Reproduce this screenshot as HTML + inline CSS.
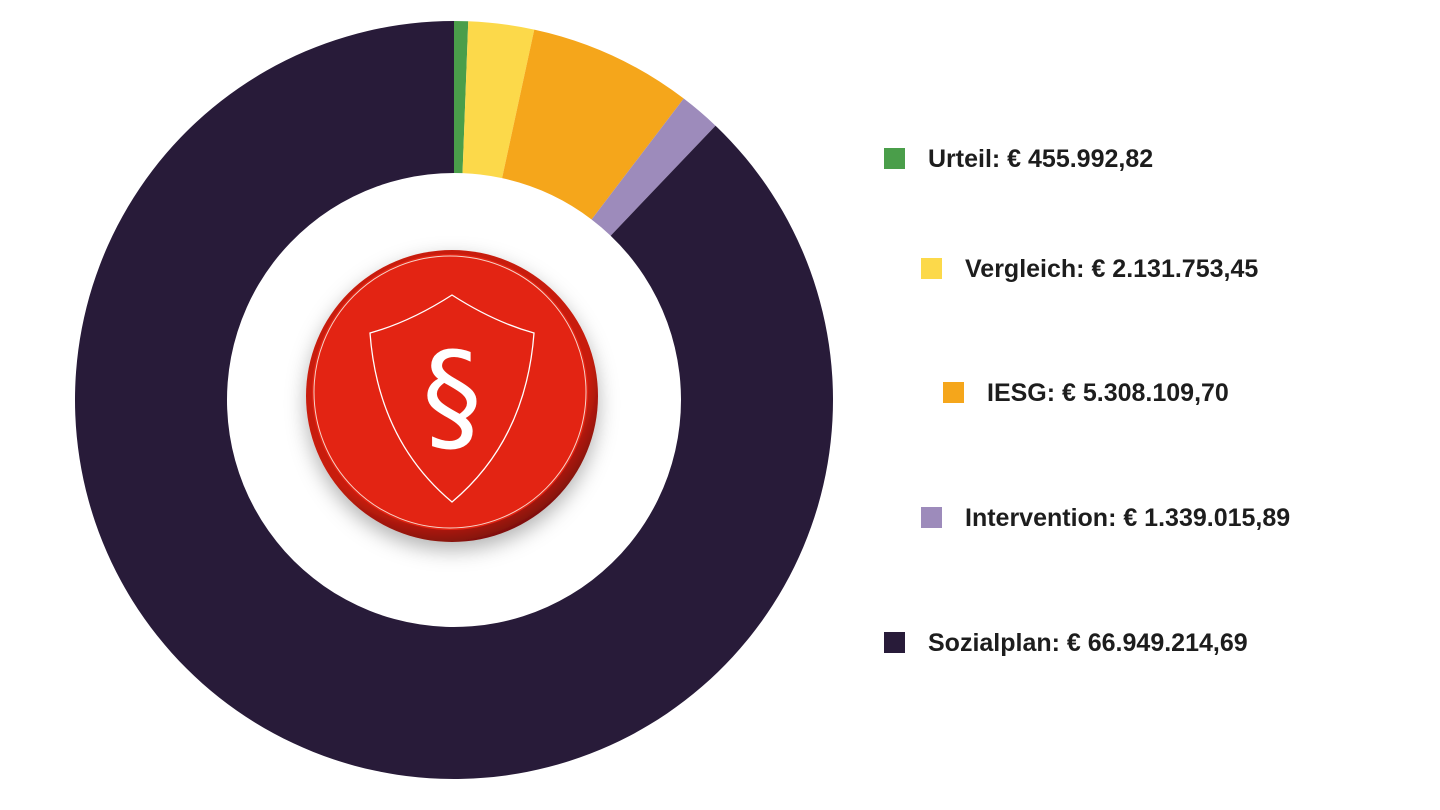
<!DOCTYPE html>
<html><head><meta charset="utf-8"><style>
body{margin:0;background:#fff;width:1440px;height:810px;overflow:hidden;font-family:"Liberation Sans",sans-serif}
svg{position:absolute;left:0;top:0}
</style></head><body>
<svg id="chart" width="1440" height="810">
<defs>
<radialGradient id="rim" cx="0.45" cy="0.4" r="0.65">
<stop offset="0.8" stop-color="#c81e10"/><stop offset="1" stop-color="#5e0a04"/>
</radialGradient>
<filter id="sh" x="-30%" y="-30%" width="160%" height="160%"><feDropShadow dx="0" dy="8" stdDeviation="10" flood-color="#000" flood-opacity="0.3"/></filter>
</defs>
<g id="slices"></g>
<g id="legend"></g>
<g>
<circle cx="452" cy="396" r="146" fill="url(#rim)" filter="url(#sh)"/>
<circle cx="450" cy="392" r="138" fill="#e32413"/>
<circle cx="450" cy="392" r="136" fill="none" stroke="#f6d3c8" stroke-width="1"/>
<path d="M452,295 Q410,322 370,333 Q378,440 452,502 Q526,440 534,333 Q494,322 452,295 Z" fill="none" stroke="#fff" stroke-width="1.3"/>
<text x="452" y="438" text-anchor="middle" font-family="DejaVu Sans, sans-serif" font-size="120" fill="#fff">§</text>
</g>
</svg>
<script>
const categories=["Urteil","Vergleich","IESG","Intervention","Sozialplan"];
const values=[455992.82,2131753.45,5308109.70,1339015.89,66949214.69];
const labels=["Urteil: € 455.992,82","Vergleich: € 2.131.753,45","IESG: € 5.308.109,70","Intervention: € 1.339.015,89","Sozialplan: € 66.949.214,69"];
const colors=["#4a9e4a","#fcd94a","#f5a61b","#9d8bbb","#281b39"];
const NS="http://www.w3.org/2000/svg";
const cx=454,cy=400,R=379,r=227;
const total=values.reduce((a,b)=>a+b,0);
function pt(a,rad){return [cx+rad*Math.sin(a),cy-rad*Math.cos(a)];}
let acc=0;
const g=document.getElementById('slices');
values.forEach((v,i)=>{
 const a0=acc/total*2*Math.PI; acc+=v; const a1=acc/total*2*Math.PI;
 const large=(a1-a0)>Math.PI?1:0;
 const [x0,y0]=pt(a0,R),[x1,y1]=pt(a1,R),[x2,y2]=pt(a1,r),[x3,y3]=pt(a0,r);
 const p=document.createElementNS(NS,'path');
 p.setAttribute('d',`M${x0},${y0}A${R},${R} 0 ${large} 1 ${x1},${y1}L${x2},${y2}A${r},${r} 0 ${large} 0 ${x3},${y3}Z`);
 p.setAttribute('fill',colors[i]);
 
 
 g.appendChild(p);
});
const lx=[884,921,943,921,884],ly=[158,268,392,517,642];
const lg=document.getElementById('legend');
labels.forEach((t,i)=>{
 const e=document.createElementNS(NS,'g');
 
 
 const s=document.createElementNS(NS,'rect');
 s.setAttribute('x',lx[i]);s.setAttribute('y',ly[i]-10);s.setAttribute('width',21);s.setAttribute('height',21);s.setAttribute('fill',colors[i]);
 
 
 const tx=document.createElementNS(NS,'text');
 tx.setAttribute('x',lx[i]+44);tx.setAttribute('y',ly[i]+9);
 tx.setAttribute('font-size','25');tx.setAttribute('font-weight','bold');tx.setAttribute('fill','#1d1d1d');
 tx.textContent=t;
 
 
 e.appendChild(s);e.appendChild(tx);lg.appendChild(e);
});
</script>
</body></html>
